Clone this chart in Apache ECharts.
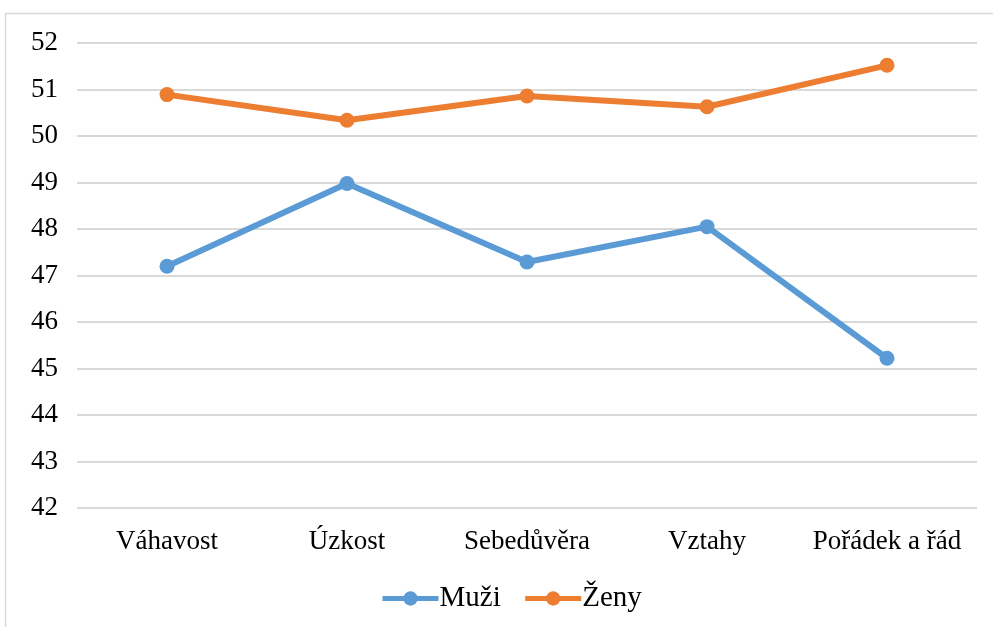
<!DOCTYPE html>
<html>
<head>
<meta charset="utf-8">
<script src="https://cdn.jsdelivr.net/npm/echarts@6/dist/echarts.min.js"></script>
<style>html,body{margin:0;padding:0;background:#fff}#c{width:993px;height:627px}</style>
</head>
<body>
<div id="c"></div>
<script>
var categories = ['Váhavost', 'Úzkost', 'Sebedůvěra', 'Vztahy', 'Pořádek a řád'];
var muzi = [47.2, 48.98, 47.29, 48.05, 45.22];
var zeny = [50.89, 50.34, 50.86, 50.63, 51.52];
var yTicks = [42, 43, 44, 45, 46, 47, 48, 49, 50, 51, 52];

var chart = echarts.init(document.getElementById('c'));
var font = '"Liberation Serif", "Times New Roman", serif';
chart.setOption({
  animation: false,
  backgroundColor: '#fff',
  graphic: [{
    type: 'rect', shape: {x: 5.5, y: 13.5, width: 1000, height: 700},
    style: {fill: 'none', stroke: '#d9d9d9', lineWidth: 1.5}, silent: true
  }],
  grid: {left: 77, right: 16, top: 43, bottom: 119},
  xAxis: {
    type: 'category', data: categories, boundaryGap: true,
    axisLine: {show: false}, axisTick: {show: false},
    axisLabel: {color: '#000', fontFamily: font, fontSize: 27, margin: 20, interval: 0}
  },
  yAxis: {
    type: 'value', min: yTicks[0], max: yTicks[yTicks.length - 1], interval: 1,
    axisLine: {show: false}, axisTick: {show: false},
    axisLabel: {color: '#000', fontFamily: font, fontSize: 27, margin: 19},
    splitLine: {lineStyle: {color: '#d9d9d9', width: 2}}
  },
  legend: {
    bottom: 9, left: 375, itemWidth: 56, itemHeight: 18, itemGap: 22,
    lineStyle: {width: 5},
    textStyle: {color: '#000', fontFamily: font, fontSize: 29, padding: [0, 0, 0, -4]},
    data: ['Muži', 'Ženy']
  },
  series: [
    {name: 'Muži', type: 'line', data: muzi, symbol: 'circle', symbolSize: 15,
     lineStyle: {color: '#5B9BD5', width: 6}, itemStyle: {color: '#5B9BD5'}},
    {name: 'Ženy', type: 'line', data: zeny, symbol: 'circle', symbolSize: 15,
     lineStyle: {color: '#ED7D31', width: 6}, itemStyle: {color: '#ED7D31'}}
  ]
});
</script>
</body>
</html>
